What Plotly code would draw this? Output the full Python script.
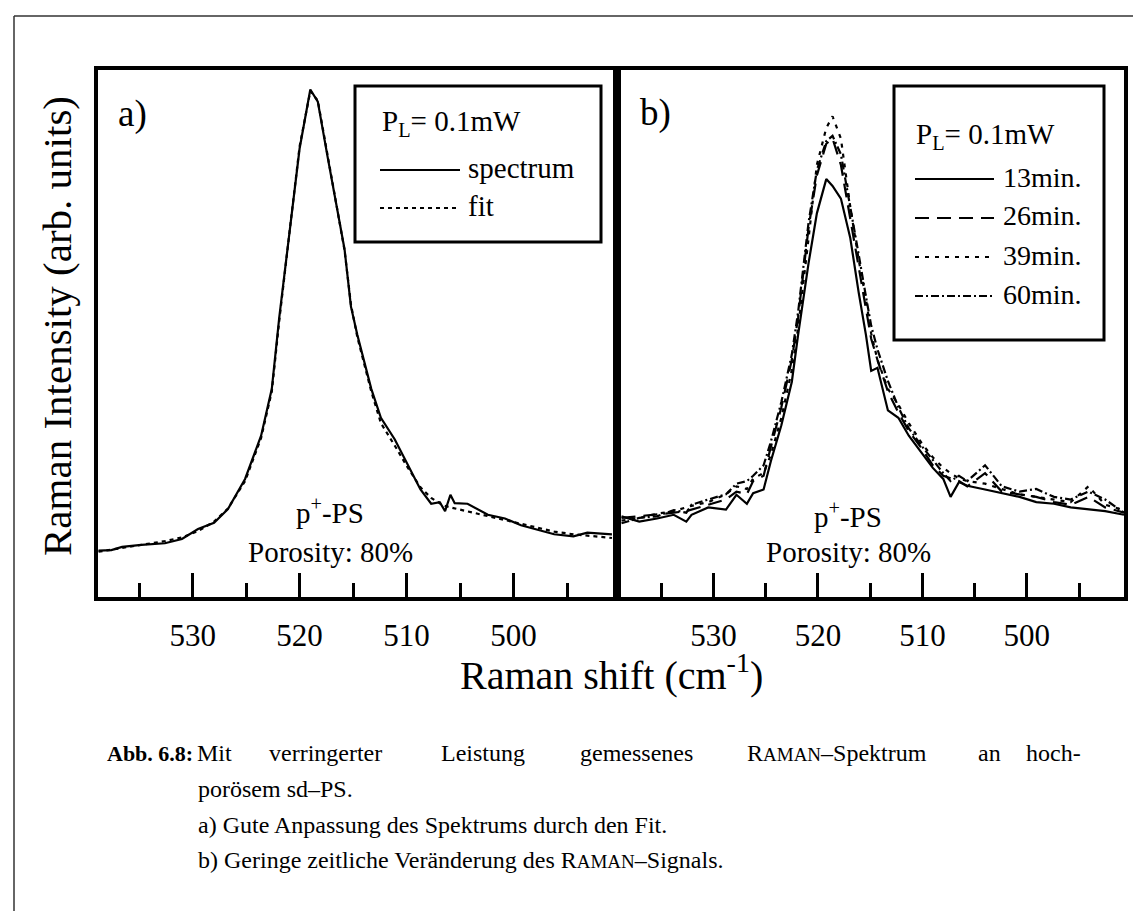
import plotly.graph_objects as go

W, H = 1141, 911

# ---------------- data ----------------
# panel a) wavenumber (cm^-1) and intensity (arb. units)
shift_a = [538.8, 537.6, 536.6, 534.8, 532.6, 531.0, 529.5, 528.0, 526.7, 525.1,
           523.6, 522.6, 521.9, 520.9, 520.0, 519.0, 518.3, 517.4, 516.6, 515.8,
           515.2, 514.6, 513.3, 512.4, 511.1, 509.9, 508.7, 507.7, 506.9, 506.4,
           505.9, 505.5, 504.3, 502.4, 500.8, 499.3, 497.6, 496.2, 494.4, 493.1, 490.8]
spectrum_a = [8.8, 8.9, 9.5, 9.9, 10.2, 11.0, 12.9, 14.1, 16.7, 22.4,
              30.6, 39.5, 53.1, 70.1, 85.1, 96.3, 94.0, 83.7, 74.9, 66.0,
              55.1, 49.7, 39.5, 34.0, 29.9, 25.2, 20.4, 17.7, 18.0, 16.3,
              19.4, 17.8, 17.7, 15.6, 14.9, 13.6, 12.6, 11.9, 11.5, 12.2, 11.9]
fit_a = [8.6, 9.0, 9.4, 10.0, 10.6, 11.3, 12.5, 14.3, 16.8, 22.0,
         30.2, 39.0, 52.5, 70.0, 85.5, 96.0, 94.2, 84.0, 75.0, 65.8,
         55.5, 49.3, 39.0, 33.0, 28.7, 24.6, 20.8, 18.8, 17.8, 17.3,
         17.0, 16.8, 16.2, 15.3, 14.6, 13.9, 13.0, 12.4, 11.9, 11.6, 11.2]

# panel b) spectra after different times
shift_b = [538.8, 537.1, 535.4, 533.8, 532.6, 532.1, 530.5, 528.8, 527.8, 526.8,
           526.2, 525.2, 524.5, 523.5, 522.5, 521.9, 520.9, 520.1, 519.2, 518.6,
           517.8, 516.9, 516.1, 515.4, 514.9, 514.3, 513.3, 512.3, 511.3, 510.0,
           509.0, 508.0, 507.3, 506.5, 505.7, 504.0, 502.4, 500.7, 499.1, 497.4,
           495.8, 494.1, 492.5, 490.7]
min13 = [15.3, 14.3, 14.9, 15.6, 14.3, 15.6, 17.0, 16.6, 19.4, 17.7,
         19.7, 20.4, 25.8, 32.6, 40.8, 49.7, 63.3, 72.8, 79.3, 78.0,
         75.6, 68.1, 57.8, 49.7, 42.9, 43.5, 35.4, 34.0, 30.6, 27.2,
         24.5, 22.4, 19.0, 21.8, 21.1, 20.4, 19.7, 19.0, 18.0, 17.7,
         17.0, 16.6, 16.3, 15.6]
min26 = [15.0, 15.3, 15.6, 16.0, 16.3, 16.6, 17.5, 18.5, 20.0, 19.5,
         22.0, 23.0, 28.5, 36.0, 45.0, 53.0, 70.0, 80.0, 86.0, 87.0,
         82.0, 72.0, 63.0, 55.0, 49.0, 45.0, 39.0, 35.0, 31.5, 28.0,
         25.0, 23.0, 22.5, 22.0, 21.0, 23.5, 20.0, 19.5, 19.0, 18.0,
         17.5, 19.0, 17.0, 16.0]
min39 = [14.5, 15.0, 15.8, 16.3, 17.0, 17.3, 18.0, 19.5, 21.0, 20.5,
         22.5, 23.5, 27.0, 34.0, 43.0, 51.0, 68.0, 82.0, 89.0, 91.2,
         87.0, 74.0, 64.0, 56.5, 50.0, 45.0, 39.5, 36.5, 33.0, 29.0,
         26.5, 24.5, 23.5, 22.5, 22.0, 21.5, 20.5, 19.5, 19.0, 18.5,
         18.0, 21.0, 17.5, 16.5]
min60 = [14.0, 15.0, 15.3, 16.5, 16.0, 17.5, 18.5, 19.5, 21.5, 22.0,
         23.0, 25.0, 29.5, 37.0, 46.0, 54.0, 71.0, 81.0, 86.5, 87.5,
         84.0, 73.5, 65.0, 57.0, 51.5, 47.0, 41.0, 36.0, 32.0, 28.5,
         26.0, 23.5, 22.0, 23.0, 22.0, 25.0, 21.0, 20.0, 20.5, 19.0,
         18.5, 20.0, 18.5, 16.0]

x_range = [538.85, 490.7]
y_range = [0, 100]
tick_major = 10
tick_minor = 5

legend_a = ["spectrum", "fit"]
legend_b = ["13min.", "26min.", "39min.", "60min."]
power_label = "P<sub>L</sub>= 0.1mW"
sample_label = "p<sup>+</sup>-PS"
porosity_label = "Porosity: 80%"

caption_head = "Abb. 6.8:"
caption_line1 = ["Mit", "verringerter", "Leistung", "gemessenes",
                 "R<span style='font-size:19px'>AMAN</span>–Spektrum", "an", "hoch-"]
caption_rest = ["porösem sd–PS.",
                "a) Gute Anpassung des Spektrums durch den Fit.",
                "b) Geringe zeitliche Veränderung des R<span style='font-size:19px'>AMAN</span>–Signals."]

# ---------------- helpers ----------------
def px(x):
    return x / W

def py(y):
    return 1 - y / H

FONT = "Liberation Serif, Times New Roman, Times, serif"
LW = 2.2

fig = go.Figure()

fig.add_trace(go.Scatter(x=shift_a, y=spectrum_a, mode="lines",
                         line=dict(color="black", width=LW), xaxis="x", yaxis="y",
                         name="spectrum"))
fig.add_trace(go.Scatter(x=shift_a, y=fit_a, mode="lines",
                         line=dict(color="black", width=LW, dash="4px,4px"),
                         xaxis="x", yaxis="y", name="fit"))

styles_b = [("solid", min13), ("14px,8px", min26), ("4px,6px", min39), ("8px,3px,2px,3px", min60)]
for (dash, vals), name in zip(styles_b, legend_b):
    fig.add_trace(go.Scatter(x=shift_b, y=vals, mode="lines",
                             line=dict(color="black", width=LW, dash=dash),
                             xaxis="x2", yaxis="y2", name=name))

xcommon = dict(range=x_range, showline=True, mirror=True, linewidth=4, linecolor="black",
               ticks="inside", ticklen=24, tickwidth=3, tickcolor="black",
               dtick=tick_major, tick0=500, showgrid=False, zeroline=False,
               tickfont=dict(family=FONT, size=31, color="black"),
               ticklabelstandoff=8,
               minor=dict(dtick=tick_minor, tick0=500, ticks="inside", ticklen=14,
                          tickwidth=3, tickcolor="black", showgrid=False))
ycommon = dict(range=y_range, showline=True, mirror=True, linewidth=4, linecolor="black",
               ticks="", showticklabels=False, showgrid=False, zeroline=False)

fig.update_layout(
    width=W, height=H, margin=dict(l=0, r=0, t=0, b=0),
    paper_bgcolor="white", plot_bgcolor="white", showlegend=False,
    font=dict(family=FONT, color="black"),
    xaxis=dict(domain=[px(90), px(605)], anchor="y", **xcommon),
    yaxis=dict(domain=[py(589), py(62)], anchor="x", **ycommon),
    xaxis2=dict(domain=[px(613), px(1116)], anchor="y2", **xcommon),
    yaxis2=dict(domain=[py(589), py(62)], anchor="x2", **ycommon),
)

ann = []
shapes = []

def text(x, y, s, size, xanchor="left", angle=0, bold=False):
    if bold:
        s = "<b>" + s + "</b>"
    ann.append(dict(x=px(x), y=py(y), xref="paper", yref="paper", text=s,
                    showarrow=False, xanchor=xanchor, yanchor="middle", textangle=angle,
                    font=dict(family=FONT, size=size, color="black")))

# page frame
shapes.append(dict(type="line", xref="paper", yref="paper", x0=px(6), x1=px(6), y0=py(8), y1=py(911),
                   line=dict(color="#333", width=1.5)))
shapes.append(dict(type="line", xref="paper", yref="paper", x0=px(6), x1=px(1141), y0=py(8), y1=py(8),
                   line=dict(color="#333", width=1.5)))

# panel labels
text(108, 106, "a)", 37)
text(630, 105, "b)", 37)

# sample labels
text(322, 503, sample_label, 29, "center")
text(322, 544, porosity_label, 29, "center")
text(840, 507, sample_label, 29, "center")
text(840, 544, porosity_label, 29, "center")

# legend a
shapes.append(dict(type="rect", xref="paper", yref="paper", x0=px(347), x1=px(593), y0=py(78), y1=py(234),
                   line=dict(color="black", width=3)))
text(372, 115, power_label, 29)
for i, (lab, dash) in enumerate(zip(legend_a, ["solid", "4px,4px"])):
    yy = 162 + i * 38
    shapes.append(dict(type="line", xref="paper", yref="paper", x0=px(372), x1=px(452), y0=py(yy), y1=py(yy),
                       line=dict(color="black", width=LW, dash=dash)))
    text(458, yy - 2, lab, 29)

# legend b
shapes.append(dict(type="rect", xref="paper", yref="paper", x0=px(886), x1=px(1096), y0=py(78), y1=py(332),
                   line=dict(color="black", width=3)))
text(906, 128, power_label, 29)
for i, ((dash, _), lab) in enumerate(zip(styles_b, legend_b)):
    yy = 171 + i * 39
    shapes.append(dict(type="line", xref="paper", yref="paper", x0=px(907), x1=px(986), y0=py(yy), y1=py(yy),
                       line=dict(color="black", width=LW, dash=dash)))
    text(993, yy - 2, lab, 28)

# axis titles
text(49, 318, "Raman Intensity (arb. units)", 41, "center", angle=-90)
text(603, 664, "Raman shift (cm<sup>-1</sup>)", 40, "center")

# caption
text(97, 745, caption_head, 22, bold=True)
line1_x = [187, 259, 431, 570, 737, 968, 1016]
for xw, w in zip(line1_x, caption_line1):
    text(xw, 745, w, 24)
for i, s in enumerate(caption_rest):
    text(188, 781 + i * 35.5, s, 24)

fig.update_layout(annotations=ann, shapes=shapes)
fig.write_html("out.html")
